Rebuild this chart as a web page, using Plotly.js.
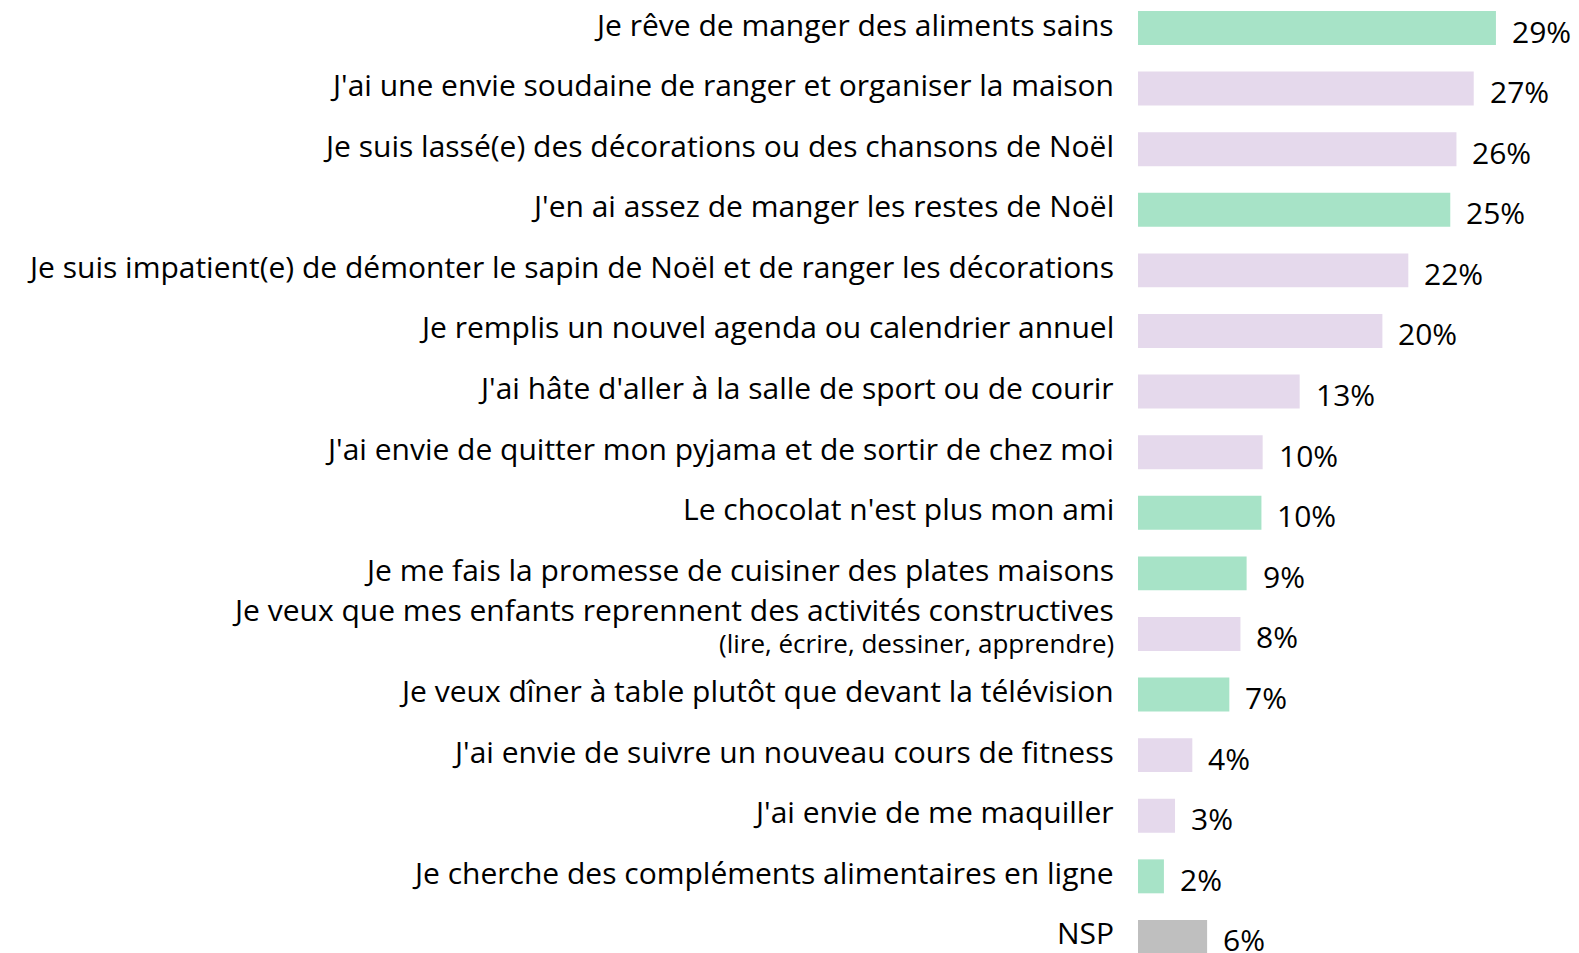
<!DOCTYPE html>
<html><head><meta charset="utf-8">
<script src="https://cdn.plot.ly/plotly-3.0.1.min.js"></script>
<style>html,body{margin:0;padding:0;background:#fff;}#chart{width:1579px;height:953px;}</style>
</head><body><div id="chart"></div>
<script>
const categories = [
  "Je rêve de manger des aliments sains",
  "J'ai une envie soudaine de ranger et organiser la maison",
  "Je suis lassé(e) des décorations ou des chansons de Noël",
  "J'en ai assez de manger les restes de Noël",
  "Je suis impatient(e) de démonter le sapin de Noël et de ranger les décorations",
  "Je remplis un nouvel agenda ou calendrier annuel",
  "J'ai hâte d'aller à la salle de sport ou de courir",
  "J'ai envie de quitter mon pyjama et de sortir de chez moi",
  "Le chocolat n'est plus mon ami",
  "Je me fais la promesse de cuisiner des plates maisons",
  "Je veux que mes enfants reprennent des activités constructives",
  "Je veux dîner à table plutôt que devant la télévision",
  "J'ai envie de suivre un nouveau cours de fitness",
  "J'ai envie de me maquiller",
  "Je cherche des compléments alimentaires en ligne",
  "NSP"
];
const subLabels = ["","","","","","","","","","","(lire, écrire, dessiner, apprendre)","","","","",""];
const values = [29.0, 27.2, 25.8, 25.3, 21.9, 19.8, 13.1, 10.1, 10.0, 8.8, 8.3, 7.4, 4.4, 3.0, 2.1, 5.6];
const valueLabels = ["29%","27%","26%","25%","22%","20%","13%","10%","10%","9%","8%","7%","4%","3%","2%","6%"];
const groups = ["g","l","l","g","l","l","l","l","g","g","l","g","l","l","g","n"];
const groupColors = {g:"#a7e3c7", l:"#e5d9ec", n:"#bfbfbf"};

const FONT = "Open Sans, Noto Sans, sans-serif";
const LABEL_SIZE = 30;
const SUB_SIZE = 26;

const trace = {
  type: "bar",
  orientation: "h",
  x: values,
  y: categories,
  marker: {color: groups.map(g => groupColors[g])},
  width: 0.56,
  hoverinfo: "skip"
};

const annotations = [];
values.forEach((v, i) => {
  annotations.push({
    x: v, y: categories[i], xref: "x", yref: "y",
    text: valueLabels[i], showarrow: false,
    xanchor: "left", yanchor: "middle",
    xshift: 14, yshift: -3,
    font: {family: FONT, size: LABEL_SIZE, color: "#000"}
  });
  const hasSub = subLabels[i] !== "";
  annotations.push({
    x: 0, y: categories[i], xref: "x", yref: "y",
    text: categories[i], showarrow: false,
    xanchor: "right", yanchor: "middle",
    xshift: -22, yshift: hasSub ? 24 : 4,
    font: {family: FONT, size: LABEL_SIZE, color: "#000"}
  });
  if (hasSub) {
    annotations.push({
      x: 0, y: categories[i], xref: "x", yref: "y",
      text: subLabels[i], showarrow: false,
      xanchor: "right", yanchor: "middle",
      xshift: -22, yshift: -9,
      font: {family: FONT, size: SUB_SIZE, color: "#000"}
    });
  }
});

const layout = {
  width: 1579, height: 953,
  margin: {l: 1138, r: 9, t: 0, b: 0, pad: 0},
  paper_bgcolor: "#fff", plot_bgcolor: "#fff",
  showlegend: false,
  xaxis: {range: [0, 35], visible: false, fixedrange: true},
  yaxis: {
    type: "category",
    range: [15.265, -0.462],
    showgrid: false, zeroline: false, showline: false,
    ticks: "", showticklabels: false,
    automargin: false
  },
  annotations: annotations
};

Plotly.newPlot("chart", [trace], layout, {displayModeBar: false, staticPlot: true});
</script>
</body></html>
